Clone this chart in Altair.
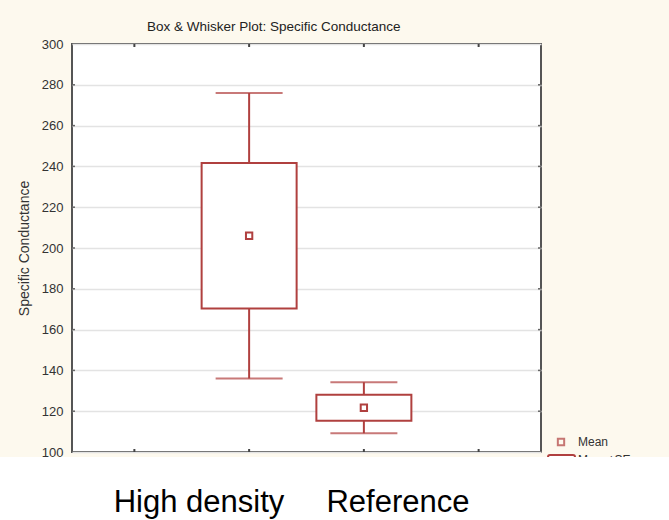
import altair as alt
import pandas as pd

# Box & whisker summary per site: mean, box = mean ± SE, whiskers = mean ± 1.96*SE
groups = ["High density", "Reference"]
group_pos = [2, 3]
means = [206.0, 121.7]
box_low = [170.3, 115.3]
box_high = [241.7, 128.1]
whisker_low = [136.0, 109.2]
whisker_high = [276.0, 134.2]

y_ticks = [100, 120, 140, 160, 180, 200, 220, 240, 260, 280, 300]
x_ticks = [1, 2, 3, 4]

legend_labels = ["Mean", "Mean±SE"]

RED = "#B0403F"
CREAM = "#FDF9EE"
FONT = "Liberation Sans"

df = pd.DataFrame({
    "group": groups,
    "pos": group_pos,
    "mean": means,
    "box_low": box_low,
    "box_high": box_high,
    "wlo": whisker_low,
    "whi": whisker_high,
})

x = alt.X("pos:Q", scale=alt.Scale(domain=[0.5, 4.5], nice=False, zero=False),
          axis=alt.Axis(values=x_ticks, labels=False, ticks=False, domain=False,
                        grid=False, title=None))
y_axis = alt.Axis(values=y_ticks, grid=True, gridColor="#E3E3E3", gridWidth=1.5,
                  ticks=False, domain=False, labelFont=FONT, labelFontSize=13,
                  labelColor="#333333", labelPadding=9,
                  title="Specific Conductance", titleFont=FONT, titleFontSize=14,
                  titleFontWeight="normal", titleColor="#333333", titlePadding=10)
y_scale = alt.Scale(domain=[100, 300], nice=False, zero=False)

base = alt.Chart(df)

whiskers = base.mark_rule(color=RED, strokeWidth=2).encode(
    x=x,
    y=alt.Y("wlo:Q", scale=y_scale, axis=y_axis),
    y2="whi:Q",
)

boxes = base.mark_bar(size=95, fill="white", stroke=RED, strokeWidth=2).encode(
    x=x,
    y=alt.Y("box_low:Q", scale=y_scale),
    y2="box_high:Q",
)

caps_hi = base.mark_tick(orient="horizontal", size=67, thickness=2, color=RED).encode(
    x=x, y=alt.Y("whi:Q", scale=y_scale))
caps_lo = base.mark_tick(orient="horizontal", size=67, thickness=2, color=RED).encode(
    x=x, y=alt.Y("wlo:Q", scale=y_scale))

mean_pts = base.mark_point(shape="square", size=40, filled=False, stroke=RED,
                           strokeWidth=2, fill="white", opacity=1).encode(
    x=x, y=alt.Y("mean:Q", scale=y_scale))

# Small inward ticks along the frame edges
tick_df = pd.DataFrame({"pos": x_ticks})
edge_ticks_top = alt.Chart(tick_df).mark_rule(color="#444444", strokeWidth=2).encode(
    x=x, y=alt.value(0), y2=alt.value(3))
edge_ticks_bot = alt.Chart(tick_df).mark_rule(color="#444444", strokeWidth=2).encode(
    x=x, y=alt.value(405), y2=alt.value(408))
ytick_df = pd.DataFrame({"v": y_ticks[1:-1]})
edge_ticks_left = alt.Chart(ytick_df).mark_rule(color="#666666", strokeWidth=1.5).encode(
    y=alt.Y("v:Q", scale=y_scale), x=alt.value(0), x2=alt.value(3))
edge_ticks_right = alt.Chart(ytick_df).mark_rule(color="#666666", strokeWidth=1.5).encode(
    y=alt.Y("v:Q", scale=y_scale), x=alt.value(466), x2=alt.value(469))

# Legend drawn beside the plot
one = pd.DataFrame({"k": [0]})
leg_mean_sym = alt.Chart(one).mark_point(shape="square", size=40, filled=False,
                                         stroke=RED, strokeWidth=2).encode(
    x=alt.value(489), y=alt.value(398))
leg_mean_txt = alt.Chart(one).mark_text(text=legend_labels[0], align="left",
                                        baseline="middle", font=FONT, fontSize=12,
                                        color="#333333").encode(
    x=alt.value(506), y=alt.value(398))
leg_box_sym = alt.Chart(one).mark_rect(fill="white", stroke=RED, strokeWidth=2,
                                       cornerRadius=2).encode(
    x=alt.value(476), x2=alt.value(503), y=alt.value(411), y2=alt.value(425))
leg_box_txt = alt.Chart(one).mark_text(text=legend_labels[1], align="left",
                                       baseline="top", font=FONT, fontSize=12,
                                       color="#333333").encode(
    x=alt.value(506), y=alt.value(411))

# White band along the bottom of the page
white_band = alt.Chart(one).mark_rect(fill="white").encode(
    x=alt.value(-72), x2=alt.value(597), y=alt.value(413), y2=alt.value(476))

# Large group captions under the plot
cap1 = alt.Chart(one).mark_text(text=groups[0], align="center", baseline="alphabetic",
                                font=FONT, fontSize=31, color="black").encode(
    x=alt.value(127), y=alt.value(468))
cap2 = alt.Chart(one).mark_text(text=groups[1], align="center", baseline="alphabetic",
                                font=FONT, fontSize=31, color="black").encode(
    x=alt.value(326), y=alt.value(468))

chart = alt.layer(
    whiskers, caps_hi, caps_lo, boxes, mean_pts, edge_ticks_top, edge_ticks_bot,
    edge_ticks_left, edge_ticks_right,
    leg_mean_sym, leg_mean_txt, leg_box_sym, leg_box_txt, white_band, cap1, cap2,
).properties(
    width=469, height=408,
    title=alt.TitleParams("Box & Whisker Plot: Specific Conductance", anchor="start",
                          dx=147, offset=5, font=FONT, fontSize=13.5,
                          fontWeight="normal", color="#222222"),
    autosize=alt.AutoSizeParams(type="none"),
    padding={"left": 72, "top": 44, "right": 128, "bottom": 68},
    background=CREAM,
).configure_view(
    fill="white", stroke="#555555", strokeWidth=2,
)

chart.save("out.html", embed_options={"renderer": "svg", "actions": False})
